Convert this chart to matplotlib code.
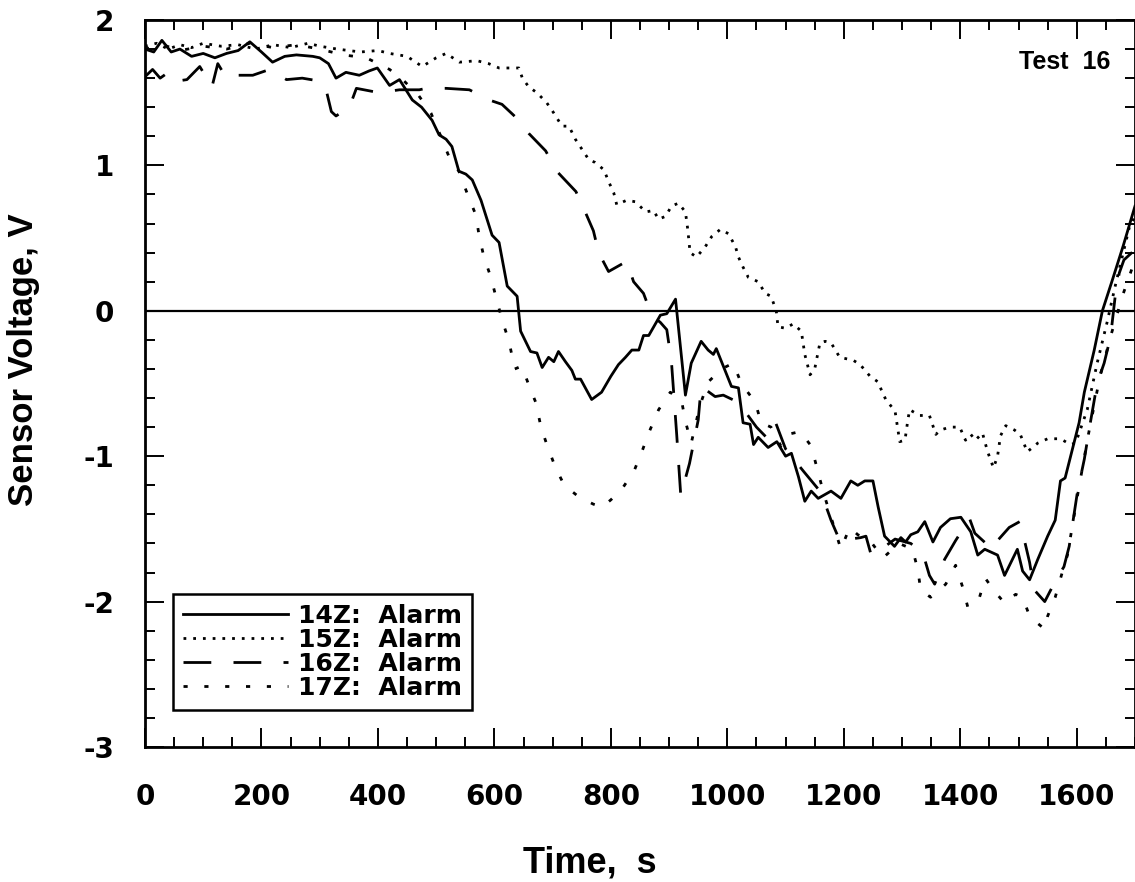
import numpy as np
import matplotlib
matplotlib.use("Agg")
import matplotlib.pyplot as plt
from matplotlib.ticker import MultipleLocator

plt.rcParams['font.family'] = ['Liberation Sans', 'DejaVu Sans']
plt.rcParams['font.weight'] = 'bold'
plt.rcParams['axes.unicode_minus'] = False

# --- data (time in s, sensor voltage in V) ---
t14 = [0, 15, 29, 45, 60, 80, 100, 120, 140, 160,
       180, 200, 219, 240, 260, 288, 300, 315, 328, 345,
       368, 385, 399, 420, 437, 459, 475, 493, 505, 517,
       527, 539, 551, 562, 577, 596, 608, 622, 639, 645,
       662, 673, 682, 693, 702, 710, 722, 733, 739, 748,
       767, 784, 800, 813, 825, 836, 848, 856, 865, 885,
       896, 911, 928, 938, 955, 967, 976, 981, 995, 1007,
       1019, 1027, 1039, 1045, 1053, 1070, 1085, 1100, 1110, 1122,
       1133, 1144, 1156, 1178, 1195, 1212, 1224, 1236, 1250, 1259,
       1270, 1287, 1298, 1306, 1315, 1327, 1339, 1353, 1366, 1383,
       1401, 1418, 1430, 1442, 1464, 1476, 1498, 1507, 1519, 1533,
       1550, 1563, 1572, 1580, 1592, 1604, 1613, 1630, 1644, 1661,
       1680, 1700]
v14 = [1.80, 1.78, 1.86, 1.78, 1.80, 1.75, 1.77, 1.74, 1.77, 1.79,
       1.85, 1.78, 1.71, 1.75, 1.76, 1.75, 1.74, 1.70, 1.60, 1.64,
       1.62, 1.65, 1.67, 1.55, 1.59, 1.45, 1.40, 1.31, 1.21, 1.18,
       1.13, 0.96, 0.94, 0.90, 0.76, 0.52, 0.47, 0.17, 0.10, -0.14,
       -0.28, -0.29, -0.39, -0.32, -0.35, -0.28, -0.35, -0.41, -0.47, -0.47,
       -0.61, -0.56, -0.45, -0.37, -0.32, -0.27, -0.27, -0.17, -0.17, -0.03,
       -0.02, 0.08, -0.58, -0.36, -0.21, -0.27, -0.30, -0.26, -0.40, -0.52,
       -0.53, -0.77, -0.78, -0.92, -0.87, -0.94, -0.90, -1.00, -0.98, -1.14,
       -1.31, -1.24, -1.29, -1.24, -1.29, -1.17, -1.20, -1.17, -1.17, -1.35,
       -1.55, -1.62, -1.56, -1.59, -1.54, -1.52, -1.45, -1.59, -1.49, -1.43,
       -1.42, -1.52, -1.68, -1.64, -1.68, -1.82, -1.64, -1.79, -1.85, -1.71,
       -1.55, -1.44, -1.17, -1.15, -0.96, -0.77, -0.56, -0.27, 0.00, 0.21,
       0.45, 0.72]

t15 = [0, 20, 40, 60, 80, 100, 130, 160, 190, 220,
       250, 280, 300, 330, 370, 400, 420, 450, 476, 500,
       517, 540, 570, 590, 608, 642, 648, 659, 673, 690,
       702, 716, 728, 739, 762, 773, 788, 796, 805, 810,
       827, 842, 860, 873, 882, 894, 904, 916, 928, 932,
       936, 947, 962, 973, 988, 1002, 1014, 1019, 1027, 1036,
       1053, 1065, 1075, 1084, 1087, 1100, 1113, 1127, 1133, 1142,
       1150, 1159, 1168, 1178, 1193, 1216, 1228, 1245, 1259, 1264,
       1272, 1288, 1296, 1305, 1310, 1313, 1330, 1347, 1358, 1366,
       1382, 1399, 1409, 1418, 1426, 1438, 1447, 1457, 1464, 1469,
       1478, 1493, 1503, 1515, 1533, 1550, 1572, 1589, 1598, 1618,
       1635, 1652, 1666, 1690, 1700]
v15 = [1.82, 1.84, 1.80, 1.83, 1.81, 1.84, 1.82, 1.83, 1.80, 1.83,
       1.81, 1.84, 1.82, 1.80, 1.78, 1.79, 1.77, 1.75, 1.68, 1.74,
       1.77, 1.71, 1.72, 1.70, 1.67, 1.67, 1.60, 1.54, 1.50, 1.43,
       1.36, 1.27, 1.27, 1.18, 1.04, 1.02, 0.97, 0.89, 0.81, 0.73,
       0.76, 0.75, 0.68, 0.69, 0.63, 0.65, 0.72, 0.74, 0.68, 0.56,
       0.40, 0.37, 0.44, 0.51, 0.56, 0.53, 0.44, 0.37, 0.30, 0.23,
       0.20, 0.12, 0.10, 0.00, -0.11, -0.12, -0.09, -0.14, -0.30, -0.44,
       -0.40, -0.22, -0.21, -0.22, -0.32, -0.34, -0.37, -0.45, -0.49, -0.54,
       -0.61, -0.69, -0.90, -0.89, -0.75, -0.68, -0.72, -0.72, -0.85, -0.82,
       -0.80, -0.80, -0.89, -0.85, -0.89, -0.84, -0.97, -1.08, -1.00, -0.86,
       -0.79, -0.82, -0.85, -0.97, -0.91, -0.88, -0.88, -0.92, -0.91, -0.68,
       -0.36, -0.08, 0.17, 0.57, 0.65]

t16 = [0, 13, 26, 40, 55, 72, 94, 115, 125, 140,
       157, 185, 214, 243, 270, 300, 311, 320, 328, 351,
       363, 402, 437, 471, 483, 517, 557, 591, 613, 637,
       659, 688, 707, 740, 757, 770, 779, 796, 827, 839,
       856, 870, 885, 896, 904, 913, 920, 935, 950, 955,
       979, 993, 1019, 1050, 1067, 1082, 1100, 1130, 1161, 1178,
       1193, 1229, 1238, 1247, 1264, 1288, 1315, 1336, 1347, 1356,
       1373, 1392, 1416, 1425, 1455, 1464, 1484, 1502, 1512, 1519,
       1527, 1545, 1563, 1578, 1587, 1601, 1613, 1622, 1635, 1647,
       1658, 1666, 1673, 1681, 1700]
v16 = [1.61, 1.66, 1.60, 1.64, 1.58, 1.59, 1.68, 1.54, 1.70, 1.60,
       1.62, 1.62, 1.66, 1.59, 1.60, 1.58, 1.52, 1.37, 1.34, 1.40,
       1.53, 1.50, 1.52, 1.52, 1.53, 1.53, 1.52, 1.45, 1.42, 1.33,
       1.22, 1.10, 0.96, 0.82, 0.67, 0.55, 0.40, 0.27, 0.34, 0.20,
       0.12, -0.03, -0.08, -0.13, -0.35, -0.85, -1.27, -1.05, -0.75, -0.52,
       -0.59, -0.58, -0.63, -0.80, -0.87, -0.76, -0.95, -1.10, -1.25, -1.44,
       -1.58, -1.56, -1.55, -1.68, -1.64, -1.57, -1.60, -1.67, -1.82, -1.88,
       -1.71, -1.58, -1.43, -1.53, -1.64, -1.58, -1.49, -1.45, -1.61, -1.73,
       -1.92, -2.00, -1.86, -1.76, -1.62, -1.25, -1.02, -0.80, -0.50, -0.36,
       -0.18, 0.10, 0.26, 0.35, 0.42]

t17 = [0, 30, 60, 100, 140, 180, 220, 260, 300, 340,
       380, 420, 445, 470, 491, 508, 522, 539, 553, 568,
       574, 582, 594, 603, 613, 625, 635, 647, 659, 671,
       680, 690, 705, 720, 745, 770, 785, 800, 820, 840,
       855, 865, 882, 902, 921, 928, 938, 953, 967, 990,
       1010, 1024, 1048, 1058, 1075, 1092, 1104, 1125, 1144, 1165,
       1195, 1210, 1224, 1245, 1267, 1295, 1318, 1327, 1332, 1349,
       1361, 1375, 1392, 1404, 1413, 1433, 1443, 1459, 1476, 1495,
       1507, 1519, 1533, 1545, 1550, 1563, 1575, 1584, 1600, 1620,
       1640, 1660, 1680, 1700]
v17 = [1.80, 1.83, 1.79, 1.82, 1.80, 1.84, 1.81, 1.83, 1.80, 1.76,
       1.74, 1.66, 1.58, 1.48, 1.36, 1.20, 1.06, 0.96, 0.81, 0.66,
       0.51, 0.37, 0.23, 0.09, -0.06, -0.21, -0.40, -0.38, -0.51, -0.63,
       -0.80, -0.92, -1.08, -1.20, -1.28, -1.33, -1.35, -1.30, -1.22, -1.10,
       -0.95, -0.84, -0.68, -0.56, -0.61, -0.76, -0.91, -0.65, -0.49, -0.40,
       -0.36, -0.50, -0.63, -0.77, -0.80, -0.93, -0.85, -0.83, -0.93, -1.25,
       -1.64, -1.49, -1.54, -1.58, -1.70, -1.60, -1.64, -1.78, -1.92, -1.97,
       -1.93, -1.88, -1.75, -1.90, -2.04, -1.97, -1.84, -1.93, -2.01, -1.95,
       -1.97, -2.10, -2.15, -2.19, -2.10, -1.97, -1.80, -1.68, -1.30, -0.85,
       -0.45, -0.15, 0.12, 0.35]

labels = ['14Z:  Alarm', '15Z:  Alarm', '16Z:  Alarm', '17Z:  Alarm']
styles = ['-', (0, (1, 2.5)), (0, (10, 8)), (0, (1.5, 6))]

fig = plt.figure(figsize=(11.35, 8.82), dpi=100)
ax = fig.add_axes([145/1135, 135/882, 990/1135, 727/882])

series = [(t14, v14), (t15, v15), (t16, v16), (t17, v17)]
for (t, v), lab, ls in zip(series, labels, styles):
    ax.plot(t, v, color='black', lw=2.0, ls=ls, label=lab)

ax.axhline(0, color='black', lw=1.6)

ax.set_xlim(0, 1700)
ax.set_ylim(-3, 2)
ax.xaxis.set_major_locator(MultipleLocator(200))
ax.xaxis.set_minor_locator(MultipleLocator(50))
ax.yaxis.set_major_locator(MultipleLocator(1))
ax.yaxis.set_minor_locator(MultipleLocator(0.2))
ax.tick_params(which='both', direction='in', top=True, right=True, width=1.4)
ax.tick_params(which='major', length=14)
ax.tick_params(which='minor', length=7)
ax.tick_params(axis='x', pad=26)
ax.tick_params(axis='y', pad=22)
for lab in ax.get_xticklabels() + ax.get_yticklabels():
    lab.set_fontfamily('DejaVu Sans')
    lab.set_fontsize(20)
    lab.set_fontweight('bold')
for sp in ax.spines.values():
    sp.set_linewidth(2)

ax.set_xlabel('Time,  s', fontsize=26, fontweight='bold')
ax.xaxis.set_label_coords((590-145)/990, (747-845)/727)
ax.set_ylabel('Sensor Voltage, V', fontsize=25, fontweight='bold')
ax.yaxis.set_label_coords((40-145)/990, (747-360)/727)

ax.text(0.975, 0.942, 'Test  16', transform=ax.transAxes, ha='right',
        va='center', fontsize=18, fontweight='bold')

leg = ax.legend(loc='lower left', bbox_to_anchor=(0.028, 0.051),
                frameon=True, fancybox=False, edgecolor='black',
                prop={'family': 'DejaVu Sans', 'weight': 'bold', 'size': 18},
                handlelength=4.2, labelspacing=0.0,
                borderpad=0.4, borderaxespad=0, handletextpad=0.4)
leg.get_frame().set_linewidth(1.8)
leg.get_frame().set_alpha(1)

fig.savefig('out.png', dpi=100)
